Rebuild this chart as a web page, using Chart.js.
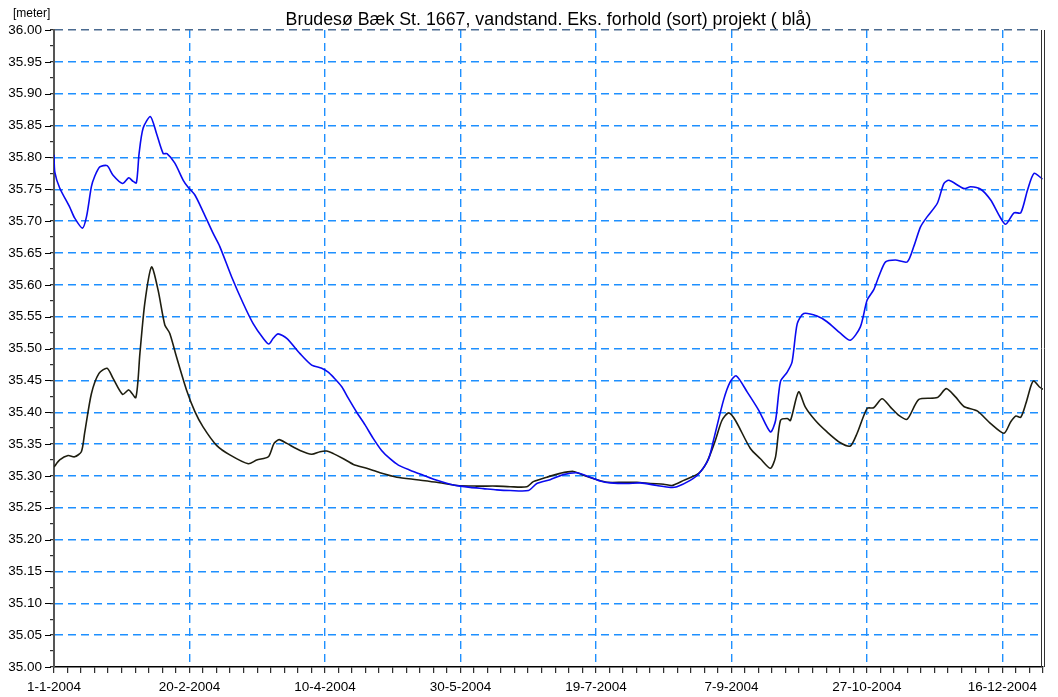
<!DOCTYPE html>
<html>
<head>
<meta charset="utf-8">
<title>Brudesø Bæk St. 1667 - vandstand</title>
<script src="https://cdn.jsdelivr.net/npm/chart.js@4.4.1/dist/chart.umd.min.js"></script>
<style>
  html, body { margin: 0; padding: 0; background: #fff; }
</style>
</head>
<body>
<canvas id="levelChart" width="1058" height="697"></canvas>
<script>
// x values are days counted from 1-1-2004
const titleText = 'Brudesø Bæk St. 1667, vandstand. Eks. forhold (sort) projekt ( blå)';
const unitLabel = '[meter]';
const dateLabels = ['1-1-2004', '20-2-2004', '10-4-2004', '30-5-2004', '19-7-2004', '7-9-2004', '27-10-2004', '16-12-2004'];

// projekt (blue)
const projektDays = [0, 0.3, 2.1, 5.8, 7.6, 10.5, 12.0, 13.8, 15.0, 16.9, 19.6, 21.8, 25.3, 27.6, 29.0, 30.4, 31.4, 32.9, 35.6, 37.8,
  40.3, 41.7, 44.6, 47.7, 49.5, 52.0, 55.0, 58.7, 61.2, 65.5, 69.8, 73.5, 77.2, 79.3, 80.9, 82.7, 85.9, 90.8, 95.1, 98.8,
  101.2, 103.1, 106.2, 108.6, 111.7, 114.8, 117.8, 120.9, 124.0, 127.1, 131.4, 136.3, 141.3, 146.2, 149.9, 153.6, 158.5, 163.4, 168.3, 175.1,
  178.2, 183.1, 188.0, 193.0, 196.7, 201.6, 205.3, 211.5, 216.4, 222.5, 227.5, 229.9, 234.8, 237.9, 241.6, 243.4, 247.1, 249.6, 251.8, 255.8,
  260.1, 264.4, 266.3, 268.1, 270.6, 272.4, 274.3, 276.7, 281.6, 285.3, 290.2, 293.9, 297.6, 300.1, 302.5, 304.4, 306.9, 310.5, 314.9, 317.3,
  319.8, 322.3, 326.0, 328.4, 330.3, 335.8, 338.3, 342.0, 345.7, 348.8, 351.2, 354.3, 356.8, 359.3, 361.7, 364.8];
const projektLevels = [35.804, 35.777, 35.752, 35.722, 35.705, 35.689, 35.707, 35.754, 35.770, 35.785, 35.787, 35.772, 35.759, 35.768, 35.763, 35.760, 35.806, 35.846, 35.864, 35.838,
  35.806, 35.806, 35.791, 35.764, 35.753, 35.741, 35.715, 35.681, 35.660, 35.613, 35.571, 35.539, 35.516, 35.507, 35.516, 35.523, 35.516, 35.492, 35.474, 35.469,
  35.463, 35.455, 35.440, 35.422, 35.400, 35.380, 35.359, 35.340, 35.327, 35.317, 35.309, 35.301, 35.293, 35.287, 35.284, 35.282, 35.280, 35.278, 35.277, 35.277,
  35.288, 35.294, 35.302, 35.305, 35.300, 35.292, 35.289, 35.288, 35.289, 35.285, 35.282, 35.283, 35.293, 35.303, 35.327, 35.356, 35.419, 35.448, 35.457, 35.432,
  35.403, 35.369, 35.387, 35.448, 35.463, 35.479, 35.539, 35.555, 35.551, 35.542, 35.524, 35.513, 35.534, 35.576, 35.592, 35.613, 35.636, 35.639, 35.636, 35.660,
  35.691, 35.707, 35.728, 35.759, 35.764, 35.751, 35.754, 35.750, 35.733, 35.709, 35.695, 35.713, 35.713, 35.749, 35.775, 35.766];

// eksisterende forhold (black)
const eksDays = [0, 2.1, 5.2, 7.6, 10.1, 11.3, 13.8, 16.6, 19.6, 21.8, 25.3, 27.6, 30.2, 31.7, 33.5, 36.0, 38.4, 40.9, 42.7, 45.2,
  48.9, 52.0, 55.0, 60.0, 64.9, 71.7, 74.8, 79.1, 81.2, 83.1, 85.9, 90.8, 95.1, 98.2, 100.6, 103.1, 106.8, 110.5, 115.4, 120.3,
  126.5, 133.9, 141.3, 148.7, 156.0, 163.4, 168.3, 174.5, 176.9, 181.9, 186.8, 191.7, 195.4, 200.4, 204.1, 210.2, 215.1, 220.1, 225.0, 228.1,
  232.4, 237.9, 241.0, 244.1, 246.5, 249.0, 251.5, 257.0, 260.7, 264.4, 266.3, 268.1, 270.6, 271.8, 274.8, 277.3, 281.0, 285.3, 290.2, 293.9,
  296.4, 300.1, 302.5, 305.6, 308.7, 311.8, 314.9, 319.2, 326.0, 329.3, 332.7, 335.8, 340.7, 345.7, 350.6, 353.1, 355.0, 356.8, 358.7, 360.6,
  361.6, 363.6, 365];
const eksLevels = [35.314, 35.325, 35.332, 35.330, 35.338, 35.367, 35.429, 35.461, 35.469, 35.453, 35.428, 35.435, 35.423, 35.492, 35.571, 35.628, 35.592, 35.537, 35.524, 35.487,
  35.435, 35.401, 35.377, 35.348, 35.333, 35.319, 35.325, 35.330, 35.351, 35.357, 35.351, 35.340, 35.334, 35.338, 35.339, 35.335, 35.327, 35.318, 35.312, 35.305,
  35.298, 35.294, 35.290, 35.285, 35.284, 35.284, 35.283, 35.283, 35.291, 35.298, 35.304, 35.307, 35.301, 35.294, 35.290, 35.290, 35.290, 35.288, 35.287, 35.285,
  35.293, 35.304, 35.322, 35.356, 35.387, 35.399, 35.387, 35.343, 35.327, 35.312, 35.330, 35.387, 35.390, 35.387, 35.432, 35.408, 35.387, 35.369, 35.352, 35.347,
  35.367, 35.406, 35.407, 35.421, 35.408, 35.395, 35.389, 35.420, 35.423, 35.437, 35.424, 35.409, 35.402, 35.382, 35.367, 35.385, 35.394, 35.392, 35.414, 35.442,
  35.449, 35.440, 35.436];

const gridBlue = '#1e90ff';
const fontFamily = '"Liberation Sans", Arial, sans-serif';

const toPoints = (days, levels) => days.map((d, i) => ({ x: d, y: levels[i] }));

// minor ticks every 5 days / every 0.025 m, labels only on the major ones
const xTickValues = [];
for (let d = 0; d <= 365; d += 5) xTickValues.push(d);
const yTickValues = [];
for (let i = 0; i <= 40; i++) yTickValues.push(35 + i * 0.025);

const frameDecor = {
    id: 'frameDecor',
    afterDraw(chart) {
        const { ctx, chartArea: a, scales: { y } } = chart;
        ctx.save();

        // longer marks on the labelled y ticks
        ctx.strokeStyle = '#000';
        ctx.lineWidth = 1;
        y.ticks.forEach((t, i) => {
            if (i % 2) return;
            const py = Math.round(y.getPixelForValue(t.value)) + 0.5;
            ctx.beginPath();
            ctx.moveTo(a.left - 9, py);
            ctx.lineTo(a.left - 3, py);
            ctx.stroke();
        });

        // double frame line on the right
        ctx.strokeStyle = '#333';
        [a.right - 1.5, a.right + 1.5].forEach(x => {
            ctx.beginPath();
            ctx.moveTo(x, a.top);
            ctx.lineTo(x, a.bottom);
            ctx.stroke();
        });

        ctx.fillStyle = '#000';
        ctx.textBaseline = 'alphabetic';
        ctx.font = '17.8px ' + fontFamily;
        ctx.textAlign = 'center';
        ctx.fillText(titleText, (a.left + a.right) / 2, 25);
        ctx.font = '12px ' + fontFamily;
        ctx.textAlign = 'left';
        ctx.fillText(unitLabel, 13, 17);
        ctx.restore();
    }
};

const ctx = document.getElementById('levelChart').getContext('2d');
new Chart(ctx, {
    type: 'line',
    data: {
        datasets: [
            {
                label: 'projekt',
                data: toPoints(projektDays, projektLevels),
                borderColor: '#0a0af0',
                borderWidth: 1.6,
                pointRadius: 0,
                tension: 0.25,
                fill: false
            },
            {
                label: 'eks. forhold',
                data: toPoints(eksDays, eksLevels),
                borderColor: '#1e1e10',
                borderWidth: 1.6,
                pointRadius: 0,
                tension: 0.25,
                fill: false
            }
        ]
    },
    options: {
        responsive: false,
        animation: false,
        layout: { padding: { top: 30, right: 15, left: 0, bottom: 0 } },
        plugins: {
            legend: { display: false },
            title: { display: false },
            tooltip: { enabled: false }
        },
        scales: {
            x: {
                type: 'linear',
                min: 0,
                max: 365,
                afterBuildTicks: scale => { scale.ticks = xTickValues.map(v => ({ value: v })); },
                afterFit: scale => { scale.height = 30; },
                ticks: {
                    autoSkip: false,
                    maxRotation: 0,
                    padding: 6,
                    color: '#000',
                    font: { family: fontFamily, size: 13.5 },
                    callback: value => (value % 50 === 0 ? dateLabels[value / 50] : '')
                },
                grid: {
                    color: c => (c.tick && c.tick.value % 50 === 0 && c.tick.value > 0 ? gridBlue : 'rgba(0,0,0,0)'),
                    tickColor: '#000',
                    tickLength: 6,
                    tickWidth: 1,
                    lineWidth: 1.4
                },
                border: { color: '#000', width: 1.5, dash: [8, 5] }
            },
            y: {
                min: 35,
                max: 36,
                afterBuildTicks: scale => { scale.ticks = yTickValues.map(v => ({ value: v })); },
                afterFit: scale => { scale.width = 54; },
                ticks: {
                    autoSkip: false,
                    padding: 8,
                    color: '#000',
                    font: { family: fontFamily, size: 13.5 },
                    callback: (value, index) => (index % 2 === 0 ? value.toFixed(2) : '')
                },
                grid: {
                    color: c => (c.index % 2 === 0 && c.index > 0 ? (c.index === 40 ? '#4a6a90' : gridBlue) : 'rgba(0,0,0,0)'),
                    tickColor: '#000',
                    tickLength: 4,
                    tickWidth: 1,
                    lineWidth: 1.4
                },
                border: { color: '#555', width: 2, dash: [8, 5] }
            }
        }
    },
    plugins: [frameDecor]
});
</script>
</body>
</html>
